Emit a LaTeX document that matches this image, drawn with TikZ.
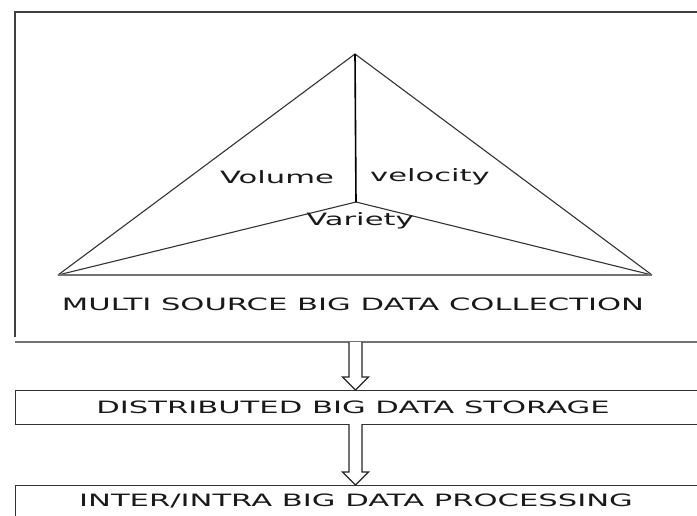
\documentclass[tikz,border=0pt]{standalone}
\usepackage{fontspec}
\setmainfont{DejaVu Sans}
\usetikzlibrary{calc}
\tikzset{
  lbl/.style={inner sep=0pt, text=black!90, font=\fontsize{17}{20}\selectfont},
  frameline/.style={draw=black!75, line width=1.6pt},
  triline/.style={draw=black!80, line width=1.1pt},
  blockarrow/.style={draw=black!85, line width=1.2pt, fill=white, line join=miter}
}
\newcommand{\wide}[1]{\scalebox{1.8}[1]{#1}}
\begin{document}
\begin{tikzpicture}[x=1pt,y=-1pt]
\useasboundingbox (0,0) rectangle (697,515);
% frame of the collection area
\coordinate (tl) at (15,12);
\coordinate (tr) at (700,12);
\coordinate (bl) at (15,337);
\coordinate (bll) at (15,342);
\coordinate (brr) at (700,342);
\draw[frameline] (bl) -- (tl) -- (tr);
\draw[draw=black!55, line width=2pt] (bll) -- (brr);
% triangle
\coordinate (apex) at (355,54);
\coordinate (ctr) at (356,202);
\coordinate (lc) at (58,275);
\coordinate (rc) at (652,275);
\draw[triline] (lc) -- (apex) -- (rc);
\draw[triline] (lc) -- (ctr) -- (rc);
\draw[draw=black!55, line width=1.3pt] (lc) -- (rc);
\draw[draw=black, line width=1.6pt] (apex) -- (ctr);
\node[lbl] (vol) at (277,177) {\wide{Volume}};
\node[lbl] (vel) at (430,177) {\wide{velocity}};
\node[lbl] (var) at (360,221) {\wide{Variety}};
\node[lbl] (collect) at (353,304) {\wide{MULTI SOURCE BIG DATA COLLECTION}};
% storage box
\node[draw=black!80, line width=1.4pt, minimum width=690pt, minimum height=34pt, inner sep=0pt, anchor=north west] (store) at (15,390) {};
\node[lbl] (storetxt) at (353,407) {\wide{DISTRIBUTED BIG DATA STORAGE}};
% processing box
\node[draw=black!80, line width=1.4pt, minimum width=690pt, minimum height=40pt, inner sep=0pt, anchor=north west] (proc) at (15,485) {};
\node[lbl] (proctxt) at (356,501) {\wide{INTER/INTRA BIG DATA PROCESSING}};
% arrows
\coordinate (s1) at (355.5,342);
\coordinate (e1) at (355.5,390);
\coordinate (s2) at (355.5,424);
\coordinate (e2) at (355.5,485);
\foreach \s/\e in {s1/e1, s2/e2}{
  \draw[blockarrow] ($(\s)+(-6.5,0)$) -- ($(\e)+(-6.5,-13)$) -- ($(\e)+(-13,-13)$) -- (\e) -- ($(\e)+(13,-13)$) -- ($(\e)+(6.5,-13)$) -- ($(\s)+(6.5,0)$);
}
\end{tikzpicture}
\end{document}
